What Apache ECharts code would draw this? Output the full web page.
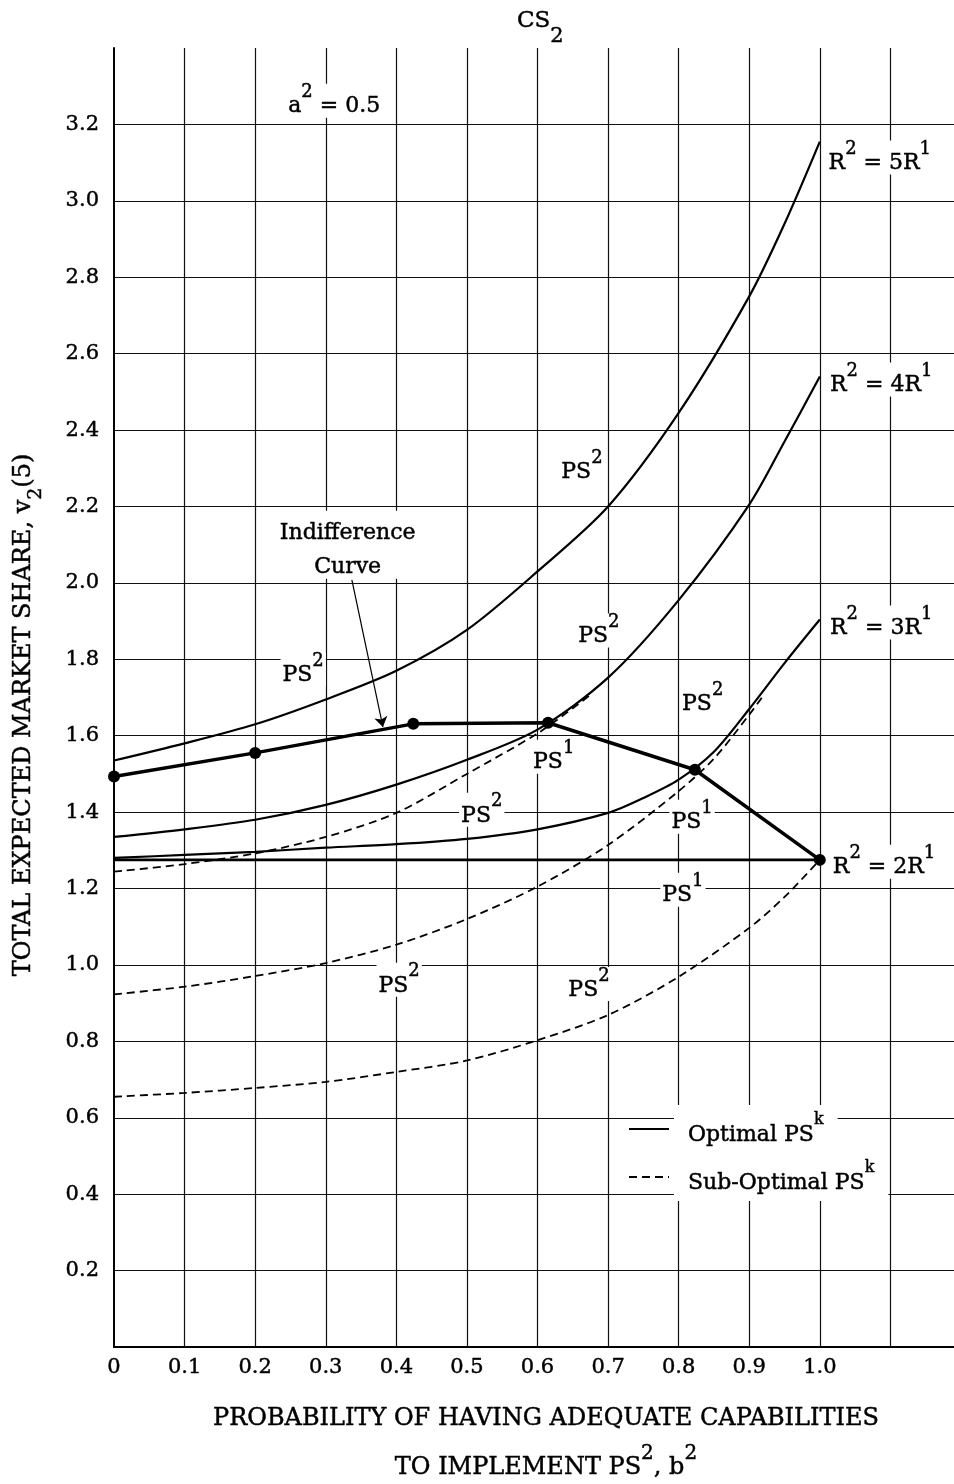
<!DOCTYPE html>
<html><head><meta charset="utf-8">
<script src="https://cdn.jsdelivr.net/npm/echarts@6.0.0/dist/echarts.min.js"></script>
<style>html,body{margin:0;padding:0;background:#fff}#c{width:954px;height:1484px}</style>
</head><body><div id="c"></div>
<script>
// ---- data ----
const xTickLabels = ['0','0.1','0.2','0.3','0.4','0.5','0.6','0.7','0.8','0.9','1.0'];
const yTickLabels = ['0.2','0.4','0.6','0.8','1.0','1.2','1.4','1.6','1.8','2.0','2.2','2.4','2.6','2.8','3.0','3.2'];

const r5Solid = [[0,1.535],[0.1,1.58],[0.2,1.63],[0.3,1.695],[0.4,1.77],[0.5,1.877],[0.6,2.03],[0.7,2.2],[0.8,2.445],[0.9,2.75],[0.95,2.94],[1.0,3.155]];
const r4Solid = [[0,1.335],[0.1,1.355],[0.2,1.38],[0.3,1.419],[0.4,1.472],[0.5,1.537],[0.6,1.616],[0.7,1.752],[0.8,1.955],[0.9,2.205],[0.95,2.37],[1.0,2.54]];
const r4Dashed = [[0,1.244],[0.1,1.264],[0.2,1.292],[0.3,1.335],[0.4,1.398],[0.5,1.5],[0.6,1.606],[0.65,1.672],[0.675,1.707]];
const r3Solid = [[0,1.28],[0.1,1.288],[0.2,1.296],[0.3,1.307],[0.4,1.316],[0.5,1.33],[0.6,1.355],[0.7,1.398],[0.75,1.437],[0.8,1.485],[0.85,1.558],[0.9,1.67],[0.95,1.79],[1.0,1.904]];
const r3Dashed = [[0,0.923],[0.1,0.943],[0.2,0.971],[0.3,1.005],[0.4,1.053],[0.5,1.12],[0.6,1.205],[0.7,1.314],[0.8,1.455],[0.85,1.54],[0.9,1.655],[0.92,1.705]];
const r2Solid = [[0,1.275],[1.0,1.275]];
const r2Dashed = [[0,0.655],[0.1,0.665],[0.2,0.678],[0.3,0.694],[0.4,0.72],[0.5,0.75],[0.6,0.803],[0.7,0.869],[0.8,0.969],[0.9,1.097],[0.95,1.178],[1.0,1.275]];
const indifference = [[0,1.493],[0.2,1.555],[0.424,1.631],[0.615,1.634],[0.823,1.511],[1.0,1.275]];

const notes = [
  [0.312, 3.249, '{m|a}{s|2}{m| = 0.5}'],
  [1.085, 3.10, '{m|R}{s|2}{m| = 5R}{s|1}'],
  [1.087, 2.519, '{m|R}{s|2}{m| = 4R}{s|1}'],
  [1.087, 1.883, '{m|R}{s|2}{m| = 3R}{s|1}'],
  [1.091, 1.257, '{m|R}{s|2}{m| = 2R}{s|1}'],
  [0.663, 2.291, '{m|PS}{s|2}'],
  [0.687, 1.862, '{m|PS}{s|2}'],
  [0.268, 1.760, '{m|PS}{s|2}'],
  [0.834, 1.684, '{m|PS}{s|2}'],
  [0.623, 1.532, '{m|PS}{s|1}'],
  [0.521, 1.393, '{m|PS}{s|2}'],
  [0.819, 1.375, '{m|PS}{s|1}'],
  [0.806, 1.184, '{m|PS}{s|1}'],
  [0.404, 0.948, '{m|PS}{s|2}'],
  [0.673, 0.937, '{m|PS}{s|2}'],
  [0.331, 2.087, '{m|Indifference}\n{m|Curve}']
];
const arrowFrom = [0.337, 2.008];
const arrowTo = [0.381, 1.623];

// ---- styles ----
const F = 'DejaVu Serif';
const INK = {textBorderColor: '#000', textBorderWidth: 0.45};
const rich = {
  m: Object.assign({fontFamily: F, fontSize: 22, lineHeight: 34, verticalAlign: 'bottom', color: '#000'}, INK),
  s: Object.assign({fontFamily: F, fontSize: 18, verticalAlign: 'top', color: '#000'}, INK),
  k: Object.assign({fontFamily: F, fontSize: 16, verticalAlign: 'top', color: '#000'}, INK)
};
const G = {fill: '#000', stroke: '#000', lineWidth: 0.45, fontFamily: F};
const richG = {  // for graphic texts (zrender style keys)
  m: Object.assign({fontSize: 24, lineHeight: 36, verticalAlign: 'bottom'}, G),
  s: Object.assign({fontSize: 20, verticalAlign: 'top'}, G)
};
const solid = w => ({color: '#000', width: w, type: 'solid'});
const dashed = {color: '#000', width: 1.8, type: [8, 5]};

const chart = echarts.init(document.getElementById('c'), null, {renderer: 'canvas'});
const lineSeries = (name, data, ls, smooth) => ({
  type: 'line', name, data, symbol: 'none', smooth: smooth ? 0.3 : false,
  lineStyle: ls, itemStyle: {color: '#000'}, silent: true, z: 2
});

chart.setOption({
  animation: false,
  backgroundColor: '#fff',
  grid: {left: 114, right: -7, top: 48, bottom: 137, containLabel: false, outerBoundsMode: 'none'},
  xAxis: {
    type: 'value', min: 0, max: 1.2, interval: 0.1,
    axisLine: {show: true, onZero: false, lineStyle: {color: '#000', width: 2}},
    axisTick: {show: false},
    splitLine: {show: true, showMinLine: false, showMaxLine: false, lineStyle: {color: '#111', width: 1.2}},
    axisLabel: Object.assign({
      margin: 10, color: '#000', fontFamily: F, fontSize: 21,
      formatter: v => { const i = Math.round(v * 10); return i <= 10 ? xTickLabels[i] : ''; }
    }, INK)
  },
  yAxis: {
    type: 'value', min: 0, max: 3.4, interval: 0.2,
    axisLine: {show: true, lineStyle: {color: '#000', width: 2}},
    axisTick: {show: false},
    splitLine: {show: true, showMinLine: false, showMaxLine: false, lineStyle: {color: '#111', width: 1.2}},
    axisLabel: Object.assign({
      margin: 15, color: '#000', fontFamily: F, fontSize: 21,
      formatter: v => { const i = Math.round(v * 5); return (i >= 1 && i <= 16) ? yTickLabels[i - 1] : ''; }
    }, INK)
  },
  legend: {
    orient: 'vertical', left: 623, top: 1100, itemWidth: 40, itemHeight: 14, itemGap: 0,
    selectedMode: false, data: ['Optimal', 'Sub-Optimal'],
    itemStyle: {color: 'rgba(0,0,0,0)', borderColor: 'rgba(0,0,0,0)', borderWidth: 0, opacity: 0},
    formatter: n => n === 'Optimal' ? '{m|Optimal PS}{k|k}' : '{m|Sub-Optimal PS}{k|k}',
    textStyle: {rich, backgroundColor: '#fff', padding: [7, 14, 7, 14]}
  },
  graphic: [
    {type: 'text', x: 517, y: 10, silent: true, style: {
      text: '{m|CS}{b|2}',
      rich: {m: Object.assign({fontSize: 23, verticalAlign: 'top'}, G),
             b: Object.assign({fontSize: 21, lineHeight: 37, verticalAlign: 'bottom'}, G)}
    }},
    {type: 'text', x: 546, y: 1419, silent: true, style: Object.assign({
      text: 'PROBABILITY OF HAVING ADEQUATE CAPABILITIES', fontSize: 24,
      align: 'center', verticalAlign: 'middle'
    }, G)},
    {type: 'text', x: 546, y: 1462, silent: true, style: {
      text: '{m|TO IMPLEMENT PS}{s|2}{m|, b}{s|2}', rich: richG,
      align: 'center', verticalAlign: 'middle'
    }},
    {type: 'text', x: 29, y: 715, rotation: Math.PI / 2, silent: true, style: {
      text: '{m|TOTAL EXPECTED MARKET SHARE, v}{b|2}{m|(5)}',
      rich: {m: Object.assign({fontSize: 24, verticalAlign: 'top'}, G),
             b: Object.assign({fontSize: 19, lineHeight: 34, verticalAlign: 'bottom'}, G)},
      align: 'center', verticalAlign: 'middle'
    }}
  ],
  series: [
    lineSeries('Optimal', indifference, solid(3.5), false),
    lineSeries('Optimal', r5Solid, solid(2.2), true),
    lineSeries('Optimal', r4Solid, solid(2.2), true),
    lineSeries('Optimal', r3Solid, solid(2.2), true),
    lineSeries('Optimal', r2Solid, solid(2.8), false),
    lineSeries('Sub-Optimal', r4Dashed, dashed, true),
    lineSeries('Sub-Optimal', r3Dashed, dashed, true),
    lineSeries('Sub-Optimal', r2Dashed, dashed, true),
    {type: 'scatter', name: 'points', data: indifference, symbol: 'circle', symbolSize: 12,
     itemStyle: {color: '#000', opacity: 1}, silent: true, z: 4},
    {type: 'scatter', name: 'notes', silent: true, z: 1, symbolSize: 0,
     itemStyle: {opacity: 1},
     data: notes.map(n => ({value: [n[0], n[1]], name: n[2]})),
     label: {show: true, position: 'inside', formatter: p => p.name, rich,
             offset: [0, -5], backgroundColor: '#fff', padding: [0, 2]},
     markLine: {silent: true, symbol: ['none', 'arrow'], symbolSize: 10, animation: false,
       label: {show: false}, lineStyle: {color: '#000', width: 1.2, type: 'solid', opacity: 1},
       data: [[{coord: arrowFrom}, {coord: arrowTo}]]}
    }
  ]
});
</script></body></html>
